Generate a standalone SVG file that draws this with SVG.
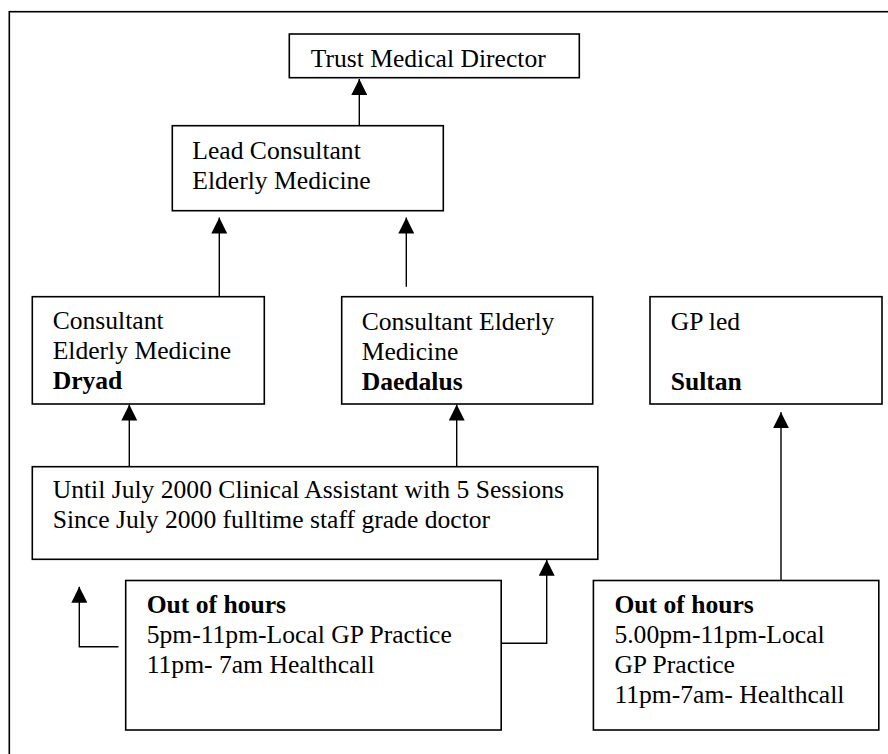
<svg xmlns="http://www.w3.org/2000/svg" width="888" height="754" viewBox="0 0 888 754">
<style>
.box{fill:#fff;stroke:#000;stroke-width:1.6}
.frame{fill:none;stroke:#000;stroke-width:1.6}
.conn{fill:none;stroke:#000;stroke-width:1.4}
text{font-family:"Liberation Serif","Times New Roman",serif;font-size:25.6px;fill:#000}
.b{font-weight:bold}
</style>
<defs>
<marker id="ah" markerUnits="userSpaceOnUse" markerWidth="16" markerHeight="16" refX="15" refY="7.5" orient="auto" viewBox="0 0 15 15">
<path d="M0,0 L15,7.5 L0,15 z" fill="#000"/>
</marker>
</defs>
<rect width="888" height="754" fill="#fff"/>
<rect class="frame" x="9.3" y="11.7" width="900" height="800"/>
<g id="connectors">
<path class="conn" d="M359.3,126 V79" marker-end="url(#ah)"/>
<path class="conn" d="M219.3,302 V217.5" marker-end="url(#ah)"/>
<path class="conn" d="M406.3,286.7 V217.5" marker-end="url(#ah)"/>
<path class="conn" d="M129.3,467 V404.5" marker-end="url(#ah)"/>
<path class="conn" d="M456.7,468 V404.5" marker-end="url(#ah)"/>
<path class="conn" d="M781,581 V412.3" marker-end="url(#ah)"/>
<path class="conn" d="M118.5,646.7 H79.3 V586.7" marker-end="url(#ah)"/>
<path class="conn" d="M501.5,643.3 H546.7 V559.8" marker-end="url(#ah)"/>
</g>
<g id="trust">
<rect class="box" x="289.3" y="34" width="290" height="43.7"/>
<text x="310.7" y="66.7">Trust Medical Director</text>
</g>
<g id="lead">
<rect class="box" x="172.3" y="125.7" width="271" height="85"/>
<text x="192.3" y="159.3">Lead Consultant</text>
<text x="192.3" y="189.3">Elderly Medicine</text>
</g>
<g id="dryad">
<rect class="box" x="32.3" y="296.7" width="232" height="107.3"/>
<text x="52.7" y="329.3">Consultant</text>
<text x="52.7" y="359.3">Elderly Medicine</text>
<text class="b" x="52.7" y="389.3">Dryad</text>
</g>
<g id="daedalus">
<rect class="box" x="341.7" y="296.7" width="251" height="107.3"/>
<text x="361.7" y="330">Consultant Elderly</text>
<text x="361.7" y="360">Medicine</text>
<text class="b" x="361.7" y="390">Daedalus</text>
</g>
<g id="sultan">
<rect class="box" x="650" y="296.7" width="232" height="107.3"/>
<text x="670.7" y="330">GP led</text>
<text class="b" x="670.7" y="390">Sultan</text>
</g>
<g id="staff">
<rect class="box" x="32.3" y="466.7" width="565.5" height="92.6"/>
<text x="52.7" y="498.3">Until July 2000 Clinical Assistant with 5 Sessions</text>
<text x="52.7" y="528.3">Since July 2000 fulltime staff grade doctor</text>
</g>
<g id="ooh-left">
<rect class="box" x="125.7" y="580.5" width="375.5" height="149.5"/>
<text class="b" x="146.7" y="613.3">Out of hours</text>
<text x="146.7" y="643.3">5pm-11pm-Local GP Practice</text>
<text x="146.7" y="673.3">11pm- 7am Healthcall</text>
</g>
<g id="ooh-right">
<rect class="box" x="593.4" y="580.5" width="285.4" height="149.5"/>
<text class="b" x="614.4" y="613.3">Out of hours</text>
<text x="614.4" y="643.3">5.00pm-11pm-Local</text>
<text x="614.4" y="673.3">GP Practice</text>
<text x="614.4" y="703.3">11pm-7am- Healthcall</text>
</g>
</svg>
